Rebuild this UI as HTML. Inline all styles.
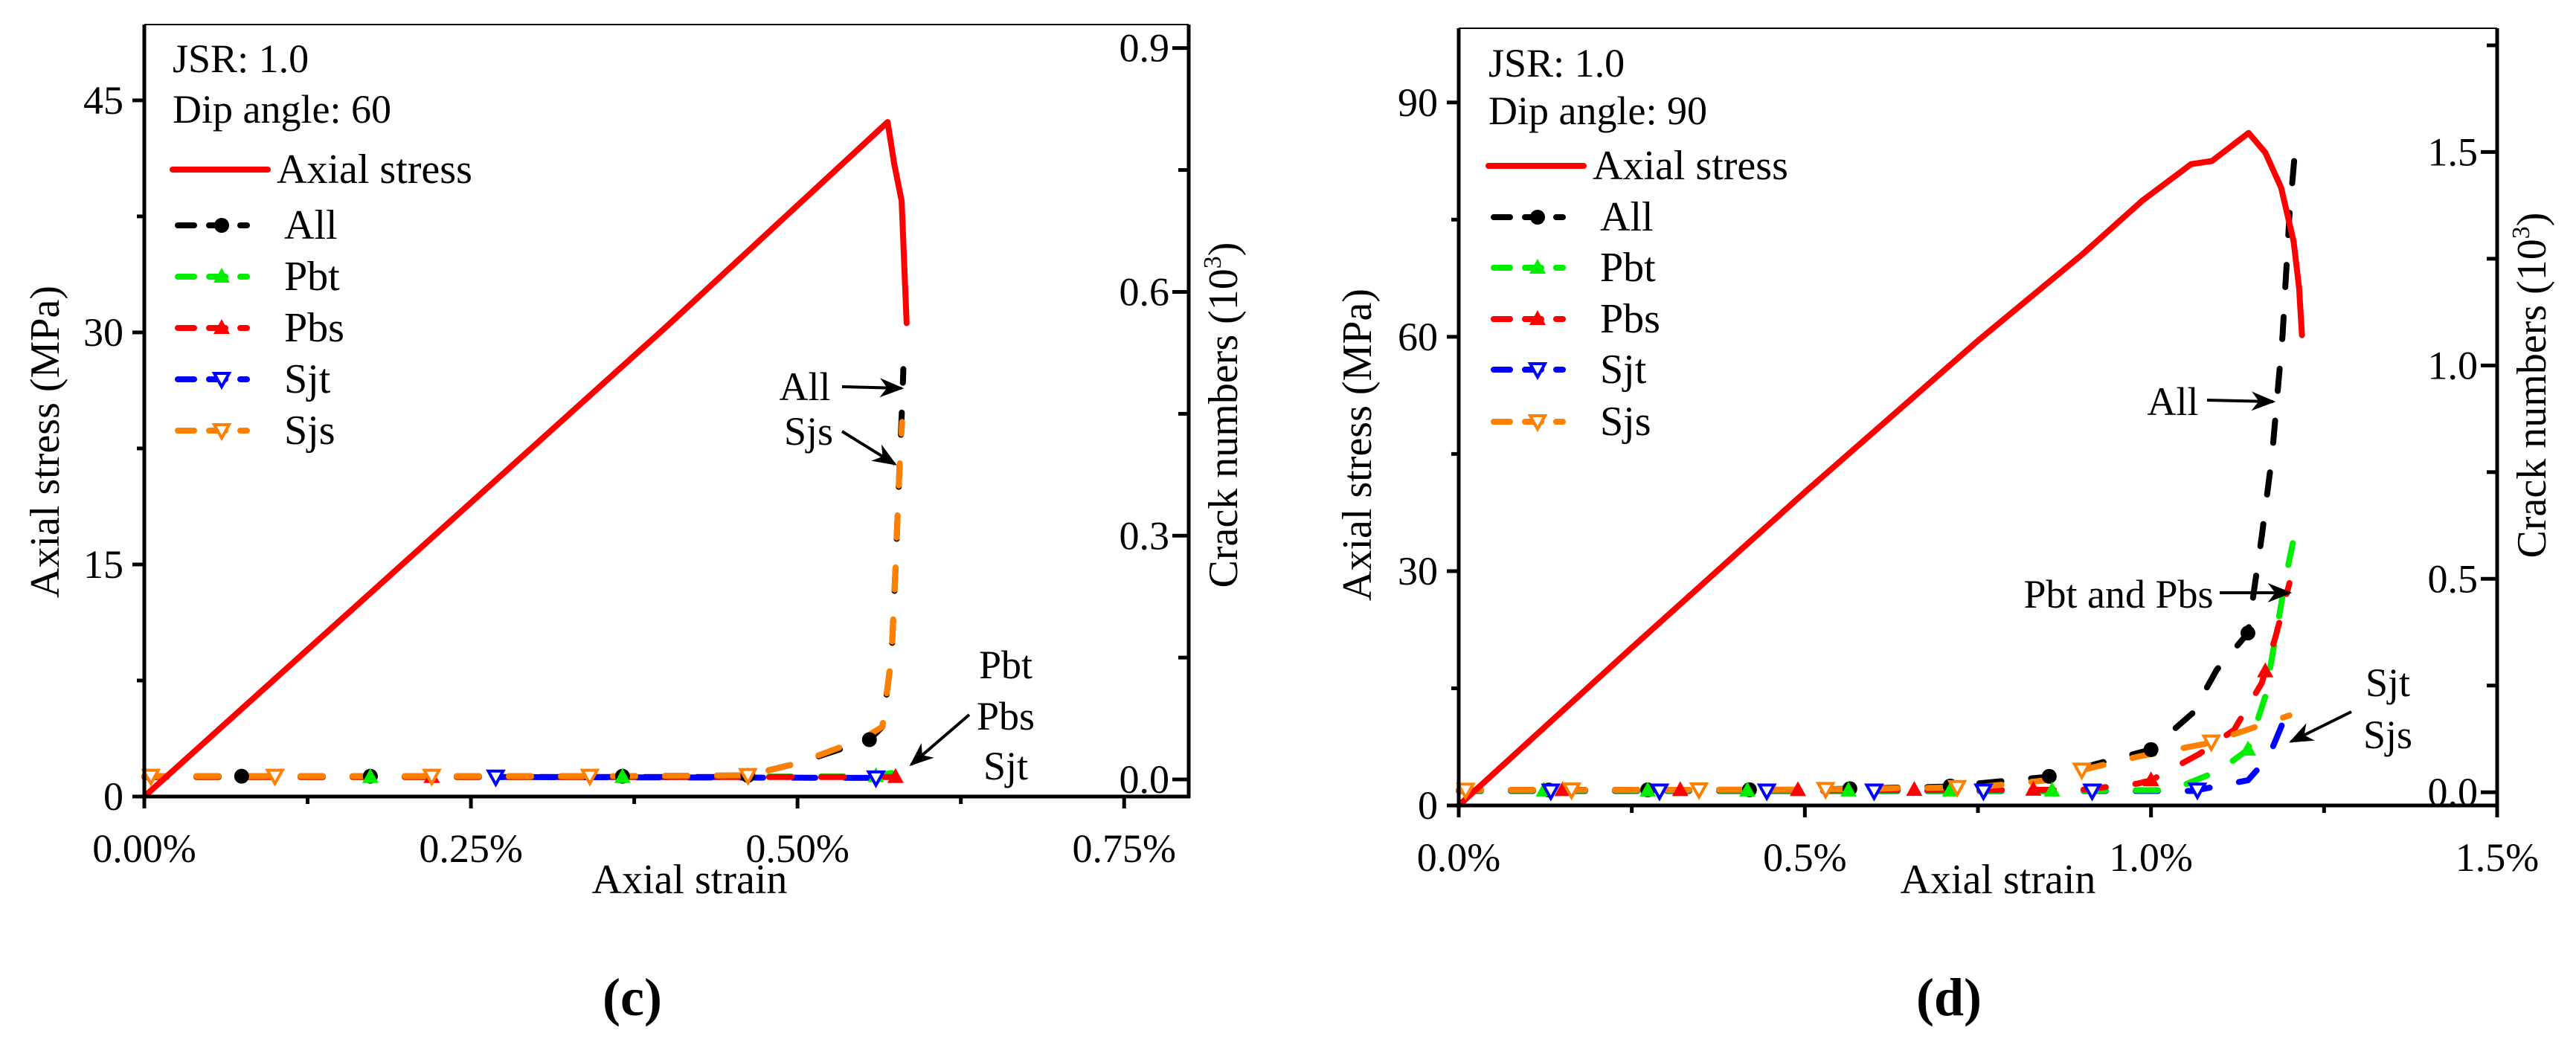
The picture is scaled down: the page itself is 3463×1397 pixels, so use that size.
<!DOCTYPE html>
<html><head><meta charset="utf-8"><style>
html,body{margin:0;padding:0;background:#fff}
svg{display:block;font-family:"Liberation Serif","Times New Roman",serif}
text{font-family:"Liberation Serif","Times New Roman",serif;fill:#000}
</style></head><body>
<svg id="fig" width="3463" height="1397" viewBox="0 0 3463 1397" xmlns="http://www.w3.org/2000/svg" font-family="Liberation Serif, serif"></svg>
<script>
// ---------- Panel (c) data ----------
const cStressStrain=[0,0.10,0.25,0.40,0.569,0.574,0.5797,0.5835];
const cStress=[0,7.6,19.0,30.4,43.6,40.9,38.5,30.6];
const cAllStrain=[0,0.075,0.173,0.366,0.462,0.50,0.555,0.565,0.572,0.575,0.578,0.580,0.581];
const cAllCrack=[0.004,0.004,0.004,0.004,0.005,0.02,0.049,0.065,0.152,0.26,0.383,0.46,0.505];
const cPbtStrain=[0,0.173,0.366,0.56,0.572];
const cPbtCrack=[0.003,0.003,0.003,0.004,0.008];
const cPbsStrain=[0,0.22,0.46,0.575,0.58];
const cPbsCrack=[0.003,0.003,0.003,0.003,0.004];
const cSjtStrain=[0.44,0.269,0.56,0.575];
const cSjtCrack=[0.003,0.003,0.002,0.006];
const cSjsStrain=[0,0.005,0.10,0.22,0.341,0.462,0.50,0.55,0.565,0.572,0.575,0.578,0.580];
const cSjsCrack=[0.004,0.004,0.004,0.004,0.004,0.005,0.02,0.05,0.065,0.152,0.26,0.383,0.44];
const cAllMarks=[0.0745,0.173,0.366,0.462,0.555];
const cPbtMarks=[0.173,0.366,0.56];
const cPbsMarks=[0.22,0.575];
const cSjtMarks=[0.269,0.56];
const cSjsMarks=[0.005,0.10,0.22,0.341,0.462];
const cXTicks=["0.00%","0.25%","0.50%","0.75%"];
const cYTicks=["0","15","30","45"];
const cRTicks=["0.0","0.3","0.6","0.9"];
// ---------- Panel (d) data ----------
const dStressStrain=[0,0.25,0.5,0.75,0.9,0.987,1.058,1.088,1.141,1.165,1.188,1.206,1.214,1.218];
const dStress=[0,20.2,40.1,59.5,70.5,77.4,82.1,82.5,86.1,83.6,79.1,72.2,66.2,60.2];
const dAllStrain=[0,0.5,0.7,0.85,1.0,1.06,1.095,1.14,1.16,1.175,1.19,1.2,1.21];
const dAllCrack=[0.005,0.006,0.013,0.036,0.10,0.185,0.287,0.373,0.60,0.79,1.07,1.353,1.54];
const dPbtStrain=[0,0.5,0.9,1.03,1.1,1.14,1.165,1.18,1.195,1.21];
const dPbtCrack=[0.004,0.004,0.004,0.005,0.052,0.1,0.224,0.365,0.506,0.624];
const dPbsStrain=[0,0.5,0.9,0.98,1.0,1.07,1.12,1.16,1.18,1.2];
const dPbsCrack=[0.005,0.005,0.006,0.02,0.028,0.09,0.146,0.256,0.365,0.49];
const dSjtStrain=[0,0.5,0.9,1.06,1.14,1.17,1.2];
const dSjtCrack=[0.003,0.003,0.003,0.003,0.028,0.083,0.2];
const dSjsStrain=[0,0.5,0.75,0.85,0.9,0.98,1.08,1.2];
const dSjsCrack=[0.005,0.006,0.012,0.028,0.052,0.083,0.114,0.18];
const dAllMarks=[0.13,0.273,0.42,0.565,0.71,0.853,1.0,1.14];
const dPbtMarks=[0.123,0.273,0.417,0.563,0.71,0.857,1.14];
const dPbsMarks=[0.15,0.32,0.49,0.658,0.83,1.0,1.165];
const dSjtMarks=[0.133,0.29,0.445,0.6,0.758,0.915,1.067];
const dSjsMarks=[0.01,0.163,0.347,0.53,0.72,0.9,1.087];
const dXTicks=["0.0%","0.5%","1.0%","1.5%"];
const dYTicks=["0","30","60","90"];
const dRTicks=["0.0","0.5","1.0","1.5"];

const NS="http://www.w3.org/2000/svg";
const svg=document.getElementById('fig');
function mk(tag,attrs,parent){const e=document.createElementNS(NS,tag);for(const k in attrs)e.setAttribute(k,attrs[k]);(parent||svg).appendChild(e);return e;}
function txt(s,x,y,size,anchor,parent,extra){const t=mk('text',Object.assign({x:x,y:y,'font-size':size,'text-anchor':anchor||'start','font-family':'Liberation Serif, serif'},extra||{}),parent);t.textContent=s;return t;}
function interp(xs,ys,x){for(let i=0;i<xs.length-1;i++){const a=Math.min(xs[i],xs[i+1]),b=Math.max(xs[i],xs[i+1]);if(x>=a&&x<=b){const t=(xs[i+1]===xs[i])?0:(x-xs[i])/(xs[i+1]-xs[i]);return ys[i]+t*(ys[i+1]-ys[i]);}}return ys[x<xs[0]?0:ys.length-1];}

function panel(P){
  const g=mk('g',{});
  
  
  const X=v=>P.L+(v-P.x0)/(P.x1-P.x0)*(P.R-P.L);
  const Y=v=>P.B-(v-P.y0)/(P.y1-P.y0)*(P.B-P.T);
  const Y2=v=>P.B-(v-P.r0)/(P.r1-P.r0)*(P.B-P.T);
  const line=(xs,ys,fy,color,name,dash)=>{
    const d=xs.map((x,i)=>(i?'L':'M')+X(x).toFixed(1)+' '+fy(ys[i]).toFixed(1)).join(' ');
    const p=mk('path',{d:d,fill:'none',stroke:color,'stroke-width':8,'stroke-linecap':'round','stroke-linejoin':'round'},g);
    if(dash)p.setAttribute('stroke-dasharray','30 40');
    
    
  };
  const marker=(type,color,x,y,name)=>{
    let m;
    if(type==='circle')m=mk('circle',{cx:x,cy:y,r:10,fill:color},g);
    else if(type==='up')m=mk('polygon',{points:`${x},${y-12} ${x+11},${y+8} ${x-11},${y+8}`,fill:color},g);
    else m=mk('polygon',{points:`${x-10},${y-8} ${x+10},${y-8} ${x},${y+10}`,fill:'#fff',stroke:color,'stroke-width':4},g);
    
    
  };
  const S=P.series;
  line(S.sjt[0],S.sjt[1],Y2,'#0000ff','sjt-line',true);
  line(S.pbt[0],S.pbt[1],Y2,'#00ee00','pbt-line',true);
  line(S.pbs[0],S.pbs[1],Y2,'#ff0000','pbs-line',true);
  line(S.all[0],S.all[1],Y2,'#000','all-line',true);
  line(S.sjs[0],S.sjs[1],Y2,'#ff8000','sjs-line',true);
  line(S.stress[0],S.stress[1],Y,'#ff0000','axial-stress-line',false);
  P.marks.all.forEach(x=>marker('circle','#000',X(x),Y2(interp(S.all[0],S.all[1],x)),'all-marker'));
  P.marks.pbt.forEach(x=>marker('up','#00ee00',X(x),Y2(interp(S.pbt[0],S.pbt[1],x)),'pbt-marker'));
  P.marks.pbs.forEach(x=>marker('up','#ff0000',X(x),Y2(interp(S.pbs[0],S.pbs[1],x)),'pbs-marker'));
  P.marks.sjt.forEach(x=>marker('down','#0000ff',X(x),Y2(interp(S.sjt[0],S.sjt[1],x)),'sjt-marker'));
  P.marks.sjs.forEach(x=>marker('down','#ff8000',X(x),Y2(interp(S.sjs[0],S.sjs[1],x)),'sjs-marker'));
  const ax=mk('g',{stroke:'#000','stroke-width':5,fill:'none'},g);
  
  
  mk('line',{x1:P.L,y1:P.T,x2:P.R,y2:P.T,'stroke-width':2},ax);
  mk('line',{x1:P.L,y1:P.T,x2:P.L,y2:P.B+2},ax);
  mk('line',{x1:P.R,y1:P.T,x2:P.R,y2:P.B+2},ax);
  mk('line',{x1:P.L-2,y1:P.B,x2:P.R+2,y2:P.B},ax);
  for(let v=P.x0;v<=P.x1+1e-9;v+=P.xStep/2){const major=Math.abs(Math.round(v/P.xStep)*P.xStep-v)<1e-9;mk('line',{x1:X(v),y1:P.B,x2:X(v),y2:P.B+(major?16:10)},ax);}
  P.xTicks.forEach((s,i)=>{const t=txt(s,X(i*P.xStep),P.B+88,54,'middle',g);});
  for(let v=P.y0;v<=P.y1+1e-9;v+=P.yStep/2){const major=Math.abs(Math.round(v/P.yStep)*P.yStep-v)<1e-9;mk('line',{x1:P.L,y1:Y(v),x2:P.L-(major?16:10),y2:Y(v)},ax);}
  P.yTicks.forEach((s,i)=>{const t=txt(s,P.L-28,Y(i*P.yStep)+18,54,'end',g);});
  for(let v=0;v<=P.r1+1e-9;v+=P.rStep/2){const major=Math.abs(Math.round(v/P.rStep)*P.rStep-v)<1e-9;mk('line',{x1:P.R,y1:Y2(v),x2:P.R-(major?22:14),y2:Y2(v)},ax);}
  P.rTicks.forEach((s,i)=>{const t=txt(s,P.R-26,Y2(i*P.rStep)+18,54,'end',g);});
  let t=txt('Axial strain',P.xtX,P.xtY+18,56,'middle',g);
  t=txt('Axial stress (MPa)',0,0,56,'middle',g,{transform:`translate(${P.ytX+18},${P.ytY}) rotate(-90)`});
  t=mk('text',{x:0,y:0,'font-size':56,'text-anchor':'middle','font-family':'Liberation Serif, serif',transform:`translate(${P.rtX+18},${P.rtY}) rotate(-90)`},g);
  t.innerHTML='Crack numbers (10<tspan dy="-22" font-size="34">3</tspan><tspan dy="22">)</tspan>';
  
  t=txt(P.label,P.lbX,P.lbY+24,72,'middle',g,{'font-weight':'bold'});
  t=txt('JSR: 1.0',P.lgX,P.jsrY+18,54,'start',g);
  t=txt('Dip angle: '+P.dip,P.lgX,P.dipY+18,54,'start',g);
  const lg=mk('g',{},g);
  const ent=[['Axial stress','#ff0000',null,false],['All','#000','circle',true],['Pbt','#00ee00','up',true],['Pbs','#ff0000','up',true],['Sjt','#0000ff','down',true],['Sjs','#ff8000','down',true]];
  ent.forEach((e,i)=>{
    const y=P.lgY[i];const x0=P.lgX+(e[3]?7:0);const x1=P.lgX+(e[3]?100:128);
    const l=mk('line',{x1:x0,y1:y,x2:x1,y2:y,stroke:e[1],'stroke-width':8,'stroke-linecap':'round'},lg);
    if(e[3])l.setAttribute('stroke-dasharray','22 20');
    
    const mx=P.lgX+66;
    if(e[2]==='circle')mk('circle',{cx:mx,cy:y,r:10,fill:e[1]},lg);
    else if(e[2]==='up')mk('polygon',{points:`${mx},${y-12} ${mx+11},${y+8} ${mx-11},${y+8}`,fill:e[1]},lg);
    else if(e[2]==='down')mk('polygon',{points:`${mx-10},${y-8} ${mx+10},${y-8} ${mx},${y+10}`,fill:'#fff',stroke:e[1],'stroke-width':4},lg);
    const tt=txt(e[0],P.lgX+(e[3]?150:140),y+18,56,'start',lg);
    
  });
  const defs=mk('defs',{},g);
  const mkr=mk('marker',{id:'ah'+P.dip,refX:9,refY:4,orient:'auto',markerUnits:'userSpaceOnUse',viewBox:'0 0 10 8',markerWidth:34,markerHeight:26},defs);
  mk('path',{d:'M0 0 L10 4 L0 8 L3 4 Z',fill:'#000'},mkr);
  P.notes.forEach(n=>{const tt=txt(n[0],n[1],n[2]+18,54,'middle',g);});
  P.arrows.forEach(a=>{const l=mk('line',{x1:a[0],y1:a[1],x2:a[2],y2:a[3],stroke:'#000','stroke-width':4,'marker-end':'url(#'+mkr.id+')'},g);});
}

panel({name:'panel-c',L:194,R:1598,T:33,B:1071,x0:0,x1:0.7994,y0:0,y1:49.9,r0:-0.021,r1:0.929,
  xStep:0.25,yStep:15,rStep:0.3,xTicks:cXTicks,yTicks:cYTicks,rTicks:cRTicks,
  series:{stress:[cStressStrain,cStress],all:[cAllStrain,cAllCrack],pbt:[cPbtStrain,cPbtCrack],pbs:[cPbsStrain,cPbsCrack],sjt:[cSjtStrain,cSjtCrack],sjs:[cSjsStrain,cSjsCrack]},
  marks:{all:cAllMarks,pbt:cPbtMarks,pbs:cPbsMarks,sjt:cSjtMarks,sjs:cSjsMarks},
  xtX:927,xtY:1183,ytX:61,ytY:594,rtX:1645,rtY:558,label:'(c)',lbX:850,lbY:1341,
  lgX:232,jsrY:79,dipY:147,dip:'60',lgY:[228,303,372,441,510,579],
  notes:[['All',1082,520],['Sjs',1087,580],['Pbt',1352,894],['Pbs',1352,963],['Sjt',1352,1030]],
  arrows:[[1132,520,1212,522],[1132,580,1203,624],[1303,961,1225,1028]]});

panel({name:'panel-d',L:1961,R:3357,T:38,B:1083,x0:0,x1:1.5,y0:0,y1:99.5,r0:-0.031,r1:1.79,
  xStep:0.5,yStep:30,rStep:0.5,xTicks:dXTicks,yTicks:dYTicks,rTicks:dRTicks,
  series:{stress:[dStressStrain,dStress],all:[dAllStrain,dAllCrack],pbt:[dPbtStrain,dPbtCrack],pbs:[dPbsStrain,dPbsCrack],sjt:[dSjtStrain,dSjtCrack],sjs:[dSjsStrain,dSjsCrack]},
  marks:{all:dAllMarks,pbt:dPbtMarks,pbs:dPbsMarks,sjt:dSjtMarks,sjs:dSjsMarks},
  xtX:2686,xtY:1183,ytX:1825,ytY:598,rtX:3404,rtY:518,label:'(d)',lbX:2620,lbY:1341,
  lgX:2001,jsrY:85,dipY:149,dip:'90',lgY:[223,292,360,429,497,567],
  notes:[['All',2921,540],['Pbt and Pbs',2848,799],['Sjt',3210,918],['Sjs',3210,988]],
  arrows:[[2967,538,3056,540],[2984,797,3078,797],[3161,957,3080,997]]});
</script>
</body></html>
